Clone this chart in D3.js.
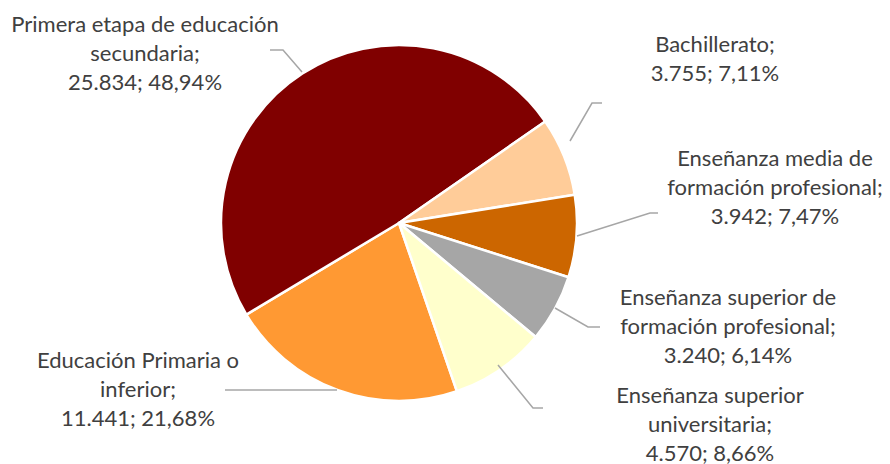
<!DOCTYPE html>
<html>
<head>
<meta charset="utf-8">
<script src="https://cdn.jsdelivr.net/npm/d3@7"></script>
<style>
  body { margin: 0; background: #fff; }
  text { font-family: Lato, "Open Sans", sans-serif; fill: #404040; }
</style>
</head>
<body>
<script>
// Chart data
var categories = [
  "Educación Primaria o inferior",
  "Primera etapa de educación secundaria",
  "Bachillerato",
  "Enseñanza media de formación profesional",
  "Enseñanza superior de formación profesional",
  "Enseñanza superior universitaria"
];
var values = [11441, 25834, 3755, 3942, 3240, 4570];
var percentLabels = ["21,68%", "48,94%", "7,11%", "7,47%", "6,14%", "8,66%"];
var valueLabels = ["11.441", "25.834", "3.755", "3.942", "3.240", "4.570"];
var labelLines = [
  ["Educación Primaria o", "inferior;"],
  ["Primera etapa de educación", "secundaria;"],
  ["Bachillerato;"],
  ["Enseñanza media de", "formación profesional;"],
  ["Enseñanza superior de", "formación profesional;"],
  ["Enseñanza superior", "universitaria;"]
];
var colors = ["#FF9933", "#800000", "#FFCC99", "#CC6600", "#A6A6A6", "#FFFFCC"];

// Layout
var svg_Width = 890, svg_Height = 464;
var cx = 399, cy = 223, radius = 178;
var startDeg = 161;

var svg = d3.select("body").append("svg")
  .attr("width", svg_Width)
  .attr("height", svg_Height);

var pie = d3.pie()
  .sort(null)
  .value(function(d) { return d; })
  .startAngle(startDeg * Math.PI / 180)
  .endAngle(startDeg * Math.PI / 180 + 2 * Math.PI);

var arc = d3.arc().innerRadius(0).outerRadius(radius);
var arcs = pie(values);

var pieGroup = svg.append("g")
  .attr("transform", "translate(" + cx + "," + cy + ")");

pieGroup.selectAll("path")
  .data(arcs)
  .enter()
  .append("path")
  .attr("d", arc)
  .attr("fill", function(d, i) { return colors[i]; })
  .attr("stroke", "#fff")
  .attr("stroke-width", 2.5)
  .attr("stroke-linejoin", "round");

// label placement (center x, first baseline) and leader line elbows
var labelPos = [
  { x: 138, y: 368, line: [[225, 390], [337, 390]] },
  { x: 145, y: 32, line: [[270, 50], [283, 50], [302, 72]] },
  { x: 715, y: 52, line: [[602, 103], [592, 103], [570, 141]] },
  { x: 775, y: 166, line: [[658, 213], [650, 213], [577, 236]] },
  { x: 728, y: 305, line: [[600, 327], [588, 327], [555, 308]] },
  { x: 710, y: 403, line: [[543, 408], [533, 408], [498, 365]] }
];

var lineGen = d3.line();
svg.append("g").selectAll("path")
  .data(labelPos)
  .enter()
  .append("path")
  .attr("d", function(d) { return lineGen(d.line); })
  .attr("fill", "none")
  .attr("stroke", "#A6A6A6")
  .attr("stroke-width", 1.5);

var lineH = 29;
var labels = svg.append("g").selectAll("text")
  .data(categories)
  .enter()
  .append("text")
  .attr("text-anchor", "middle")
  .style("font-size", "22px");

labels.each(function(d, i) {
  var t = d3.select(this);
  var lines = labelLines[i].concat([valueLabels[i] + "; " + percentLabels[i]]);
  lines.forEach(function(s, k) {
    t.append("tspan")
      .attr("x", labelPos[i].x)
      .attr("y", labelPos[i].y + k * lineH)
      .text(s);
  });
});
</script>
</body>
</html>
